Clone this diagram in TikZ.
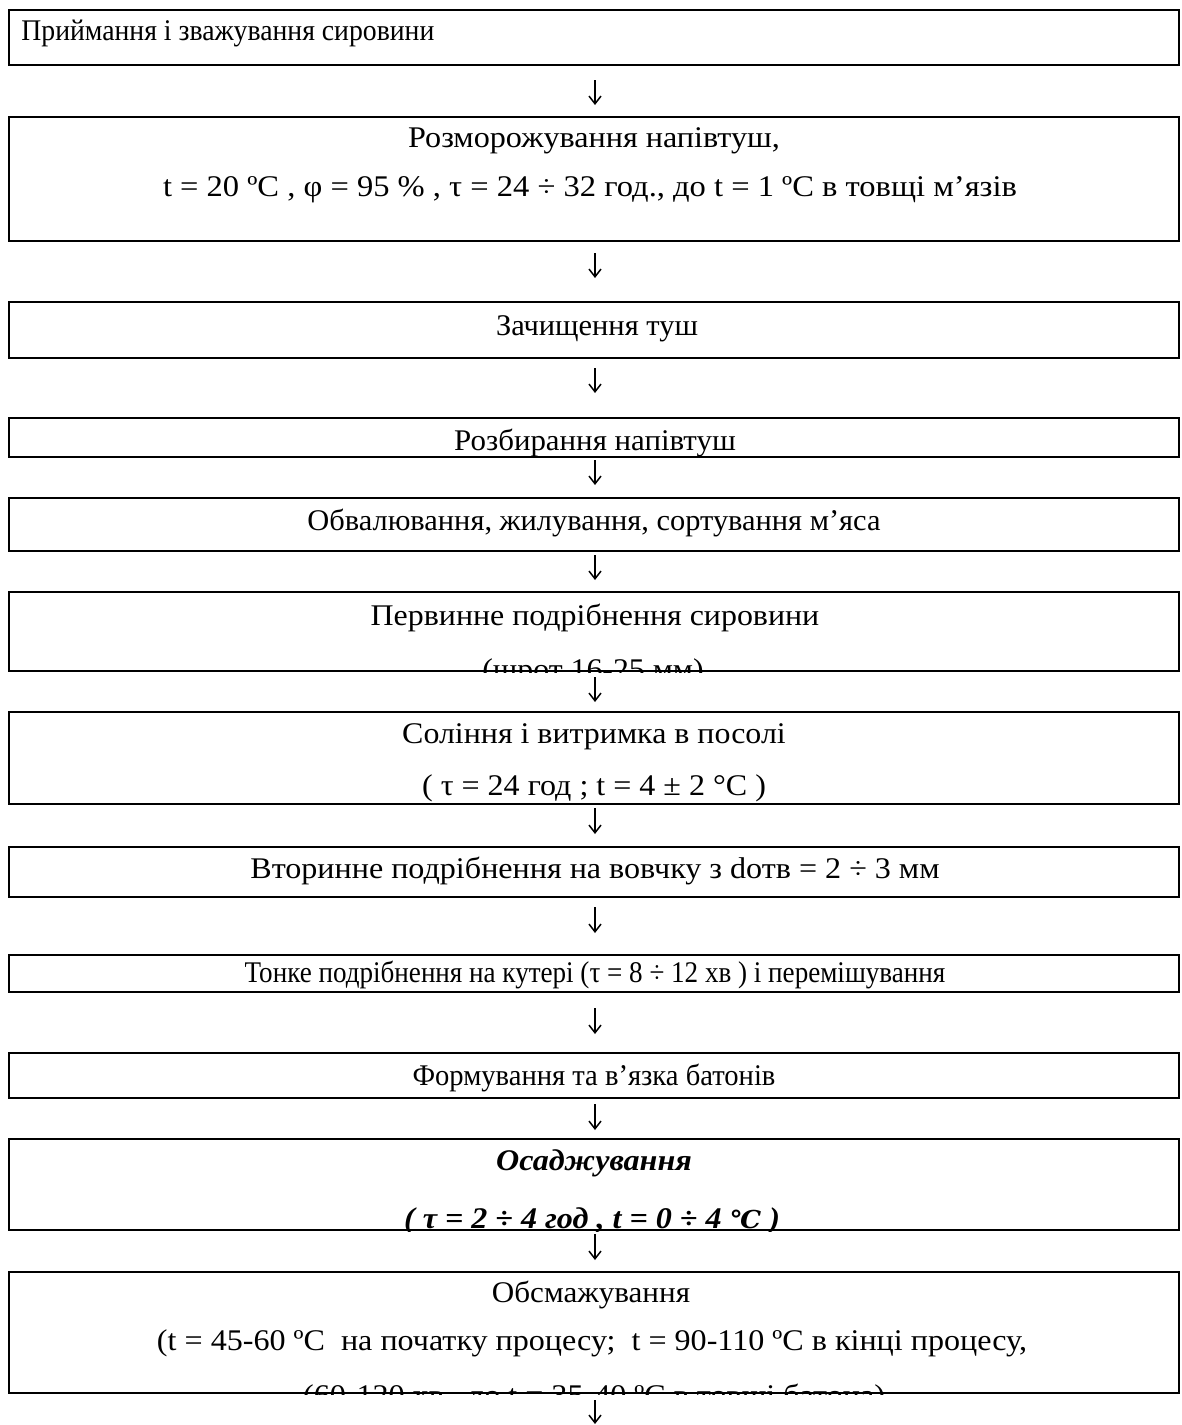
\documentclass[tikz,border=0pt]{standalone}
\usepackage{graphicx}
\usepackage{fontspec}
\setmainfont{Liberation Serif}
\newfontfamily\degsym{DejaVu Serif}
\newcommand{\hsc}[2]{\scalebox{#1}[1]{#2}}
\usetikzlibrary{arrows.meta,fit}
\begin{document}
\begin{tikzpicture}[x=0.4667pt,y=-0.4667pt,
  box/.style={draw=black, line width=1.3pt, inner sep=0pt, fit={#1}},
  txt/.style={font=\fontsize{14pt}{16pt}\selectfont, inner sep=0pt, anchor=base},
  bitxt/.style={font=\fontsize{14pt}{16pt}\selectfont\bfseries\itshape, inner sep=0pt, anchor=base},
  arr/.style={line width=0.7pt, -{Straight Barb[length=3.6pt,width=5.6pt]}}]
\useasboundingbox (0,0) rectangle (1181,1425);
% boxes
\node[box={(9,10) (1179,65)}] (b1) {};
\node[box={(9,117) (1179,241)}] (b2) {};
\node[box={(9,302) (1179,358)}] (b3) {};
\node[box={(9,418) (1179,457)}] (b4) {};
\node[box={(9,498) (1179,551)}] (b5) {};
\node[box={(9,592) (1179,671)}] (b6) {};
\node[box={(9,712) (1179,804)}] (b7) {};
\node[box={(9,847) (1179,897)}] (b8) {};
\node[box={(9,955) (1179,992)}] (b9) {};
\node[box={(9,1053) (1179,1098)}] (b10) {};
\node[box={(9,1139) (1179,1230)}] (b11) {};
\node[box={(9,1272) (1179,1393)}] (b12) {};
% texts
\node[txt, anchor=base west] (t1) at (21,40) {\hsc{0.924}{Приймання і зважування сировини}};
\node[txt] (t2a) at (594,147) {\hsc{1.072}{Розморожування напівтуш,}};
\node[txt] (t2b) at (590,196) {\hsc{1.085}{t = 20 ºC , φ = 95 \% , τ = 24 ÷ 32 год., до t = 1 ºC в товщі м’язів}};
\node[txt] (t3) at (597,335) {\hsc{1.015}{Зачищення туш}};
\node[txt] (t4) at (595,450) {\hsc{1.03}{Розбирання напівтуш}};
\node[txt] (t5) at (594,530) {\hsc{1.014}{Обвалювання, жилування, сортування м’яса}};
\begin{scope}
\clip (b6.south west) rectangle (b6.north east);
\node[txt] (t6a) at (595,625) {\hsc{1.064}{Первинне подрібнення сировини}};
\node[txt] (t6b) at (593,679) {\hsc{1.06}{(шрот 16-25 мм)}};
\end{scope}
\begin{scope}
\clip (b7.south west) rectangle (b7.north east);
\node[txt] (t7a) at (594,743) {\hsc{1.064}{Соління і витримка в посолі}};
\node[txt] (t7b) at (594,795) {\hsc{1.068}{( τ = 24 год ; t = 4 ± 2 °C )}};
\end{scope}
\node[txt] (t8) at (595,878) {\hsc{1.07}{Вторинне подрібнення на вовчку з dотв = 2 ÷ 3 мм}};
\node[txt] (t9) at (595,982) {\hsc{0.903}{Тонке подрібнення на кутері (τ = 8 ÷ 12 хв ) і перемішування}};
\node[txt] (t10) at (594,1085) {\hsc{0.953}{Формування та в’язка батонів}};
\begin{scope}
\clip (b11.south west) rectangle (b11.north east);
\node[bitxt] (t11a) at (594,1170) {\hsc{1.07}{Осаджування}};
\node[bitxt] (t11b) at (592,1228) {\hsc{1.07}{( τ = 2 ÷ 4 год , t = 0 ÷ 4 {\degsym\fontsize{11.5pt}{16pt}\selectfont ℃} )}};
\end{scope}
\begin{scope}
\clip (b12.south west) rectangle (b12.north east);
\node[txt] (t12a) at (591,1302) {\hsc{1.037}{Обсмажування}};
\node[txt] (t12b) at (592,1350) {\hsc{1.07}{(t = 45-60 ºC \ на початку процесу; \ t = 90-110 ºC в кінці процесу,}};
\node[txt] (t12c) at (594,1405) {\hsc{1.07}{(60-120 хв., до t = 35-40 ºC в товщі батона)}};
\end{scope}
% arrows
\coordinate (a1s) at (595,80);   \coordinate (a1e) at (595,105);
\coordinate (a2s) at (595,253);  \coordinate (a2e) at (595,278);
\coordinate (a3s) at (595,368);  \coordinate (a3e) at (595,393);
\coordinate (a4s) at (595,460);  \coordinate (a4e) at (595,485);
\coordinate (a5s) at (595,555);  \coordinate (a5e) at (595,580);
\coordinate (a6s) at (595,677);  \coordinate (a6e) at (595,702);
\coordinate (a7s) at (595,808);  \coordinate (a7e) at (595,834);
\coordinate (a8s) at (595,907);  \coordinate (a8e) at (595,933);
\coordinate (a9s) at (595,1008); \coordinate (a9e) at (595,1034);
\coordinate (a10s) at (595,1104); \coordinate (a10e) at (595,1130);
\coordinate (a11s) at (595,1234); \coordinate (a11e) at (595,1260);
\coordinate (a12s) at (595,1400); \coordinate (a12e) at (595,1424);
\foreach \i in {1,...,12} {\draw[arr] (a\i s) -- (a\i e);}
\end{tikzpicture}
\end{document}
